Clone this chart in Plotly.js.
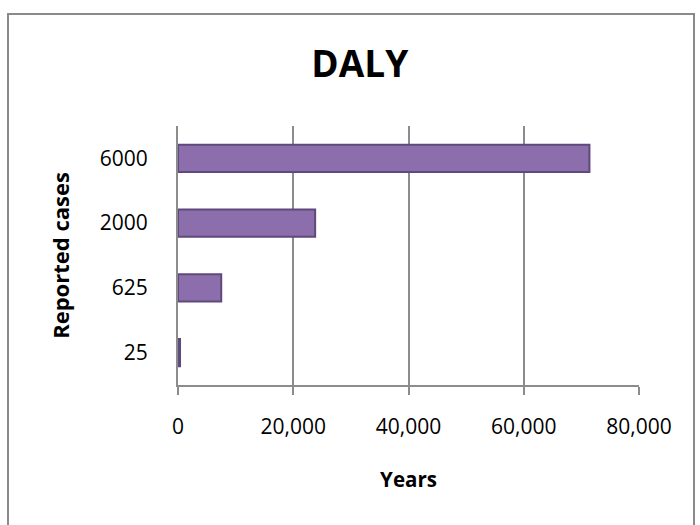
<!DOCTYPE html>
<html>
<head>
<meta charset="utf-8">
<script src="https://cdn.plot.ly/plotly-3.0.1.min.js"></script>
<style>
  html, body { margin: 0; padding: 0; background: #fff; }
  #wrap { position: relative; width: 700px; height: 525px; }
  #chart { position: absolute; left: 0; top: 0; width: 700px; height: 525px; }
  #frame { position: absolute; left: 7px; top: 13px; width: 684px; height: 514px; border: 2px solid #8a8a8a; pointer-events: none; }
</style>
</head>
<body>
<div id="wrap">
  <div id="chart"></div>
  <div id="frame"></div>
</div>
<script>
const categories = ['25', '625', '2000', '6000'];
const dalyYears = [350, 7500, 23800, 71400];
const xTickVals = [0, 20000, 40000, 60000, 80000];
const xTickText = ['0', '20,000', '40,000', '60,000', '80,000'];

const FONT = 'Open Sans, Liberation Sans, sans-serif';
const GRID = '#8c8c8c';

const trace = {
  type: 'bar',
  orientation: 'h',
  y: categories,
  x: dalyYears,
  marker: { color: '#8b6eab', line: { color: '#5e4a7c', width: 2 } },
  hoverinfo: 'x+y'
};

const layout = {
  width: 700,
  height: 525,
  margin: { l: 178, r: 61, t: 126, b: 140 },
  paper_bgcolor: 'rgba(0,0,0,0)',
  plot_bgcolor: 'rgba(0,0,0,0)',
  showlegend: false,
  bargap: 0.58,
  font: { family: FONT, color: '#000' },
  title: {
    text: 'DALY',
    font: { family: FONT, size: 37, weight: 'bold', color: '#000' },
    xref: 'container', yref: 'container',
    x: 0.514, y: 1 - 64 / 525,
    xanchor: 'center', yanchor: 'middle'
  },
  xaxis: {
    range: [0, 80000],
    tickvals: xTickVals,
    ticktext: xTickText,
    showgrid: true,
    gridcolor: GRID,
    gridwidth: 2,
    zeroline: false,
    showline: true,
    linecolor: GRID,
    linewidth: 2,
    ticks: 'outside',
    ticklen: 8,
    tickwidth: 2,
    tickcolor: GRID,
    ticklabelstandoff: 14,
    tickfont: { family: FONT, size: 21, color: '#000' },
    title: {
      text: 'Years',
      font: { family: FONT, size: 20.5, weight: 'bold', color: '#000' },
      standoff: 33
    },
    fixedrange: true
  },
  yaxis: {
    type: 'category',
    categoryorder: 'array',
    categoryarray: categories,
    showgrid: false,
    zeroline: false,
    showline: true,
    linecolor: GRID,
    linewidth: 2,
    ticks: '',
    ticklabelstandoff: 24,
    tickfont: { family: FONT, size: 21, color: '#000' },
    title: {
      text: 'Reported cases',
      font: { family: FONT, size: 22, weight: 'bold', color: '#000' },
      standoff: 24
    },
    fixedrange: true
  }
};

Plotly.newPlot('chart', [trace], layout, { displayModeBar: false, staticPlot: true });
</script>
</body>
</html>
